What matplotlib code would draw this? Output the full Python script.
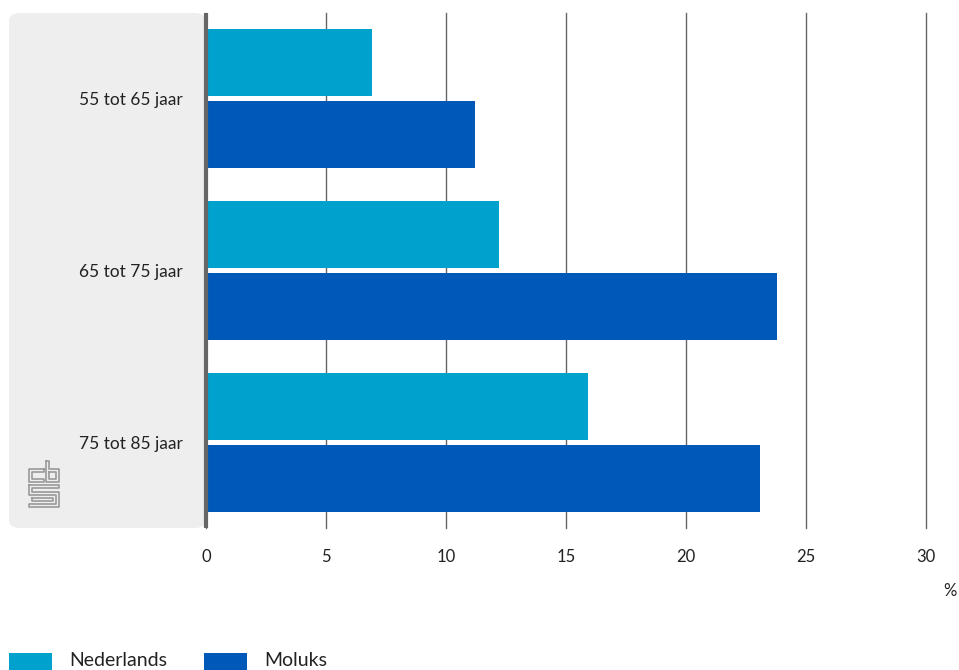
import matplotlib
matplotlib.use("Agg")
import matplotlib.pyplot as plt
from matplotlib.patches import FancyBboxPatch, Rectangle
from matplotlib.lines import Line2D
import numpy as np

categories = ["55 tot 65 jaar", "65 tot 75 jaar", "75 tot 85 jaar"]
nederlands = [6.9, 12.2, 15.9]
moluks = [11.2, 23.8, 23.1]
series_names = ["Nederlands", "Moluks"]
colors = ["#00a1cd", "#0058b8"]
xticks = [0, 5, 10, 15, 20, 25, 30]

plt.rcParams['font.family'] = ['Lato', 'DejaVu Sans']
W, H = 959, 670
fig = plt.figure(figsize=(W/100, H/100), dpi=100)

def fx(x): return x / W
def fy(y): return 1 - y / H

# grey panel
panel = FancyBboxPatch((fx(9), fy(528)), fx(206) - fx(9), fy(13) - fy(528),
                       boxstyle="round,pad=0,rounding_size=0.012",
                       transform=fig.transFigure, facecolor="#eeeeee",
                       edgecolor="none", zorder=-5)
fig.patches.append(panel)

ax = fig.add_axes([fx(206), fy(528), fx(926) - fx(206), fy(13) - fy(528)])
ax.set_zorder(2)
ax.set_facecolor("none")
y = np.arange(len(categories))
h = 0.39
off = 0.209
ax.barh(y - off, nederlands, height=h, color=colors[0], zorder=3)
ax.barh(y + off, moluks, height=h, color=colors[1], zorder=3)
ax.set_xlim(0, 30)
ax.set_ylim(2.5, -0.5)
ax.set_xticks(xticks)
ax.set_xticklabels([str(t) for t in xticks], fontsize=12, color="#222222")
ax.set_yticks(y)
ax.set_yticklabels(categories, fontsize=12.5, color="#222222")
ax.tick_params(axis="both", length=0)
ax.tick_params(axis="x", pad=15)
ax.tick_params(axis="y", pad=17)
for s in ["top", "right", "bottom"]:
    ax.spines[s].set_visible(False)
ax.spines["left"].set_color("#666666")
ax.spines["left"].set_linewidth(3)
ax.spines["left"].set_capstyle("butt")
ax.spines["left"].set_zorder(5)
ax.xaxis.grid(True, color="#666666", linewidth=1, zorder=1)
for gl in ax.get_xgridlines():
    gl.set_clip_on(False)
ax.set_axisbelow(True)

fig.text(fx(950), fy(591), "%", fontsize=12, color="#222222", ha="center", va="center")

# legend
for i, (name, c) in enumerate(zip(series_names, colors)):
    x0 = 9 + i * 195
    fig.patches.append(Rectangle((fx(x0), fy(670)), fx(43), fy(653) - fy(670),
                                 transform=fig.transFigure, facecolor=c, edgecolor="none"))
    fig.text(fx(x0 + 60), fy(661), name, fontsize=14, color="#222222", ha="left", va="center")

# cbs logo (approximate)
lc = "#999999"
def pl(pts):
    xs = [fx(p[0]) for p in pts]
    ys = [fy(p[1]) for p in pts]
    fig.add_artist(Line2D(xs, ys, transform=fig.transFigure, color=lc, lw=1.2))
# c
pl([(44, 469), (29, 469), (29, 482), (44, 482), (44, 479), (32, 479), (32, 472), (44, 472), (44, 469)])
# b
pl([(46, 461), (49, 461), (49, 469), (59, 469), (59, 482), (46, 482), (46, 461)])
pl([(49, 472), (56, 472), (56, 479), (49, 479), (49, 472)])
# s
pl([(29, 485), (59, 485), (59, 488), (32, 488), (32, 492), (59, 492), (59, 507), (29, 507),
    (29, 504), (56, 504), (56, 495), (29, 495), (29, 485)])
pl([(32, 498), (53, 498), (53, 501), (32, 501), (32, 498)])

fig.savefig("out.png", dpi=100)
